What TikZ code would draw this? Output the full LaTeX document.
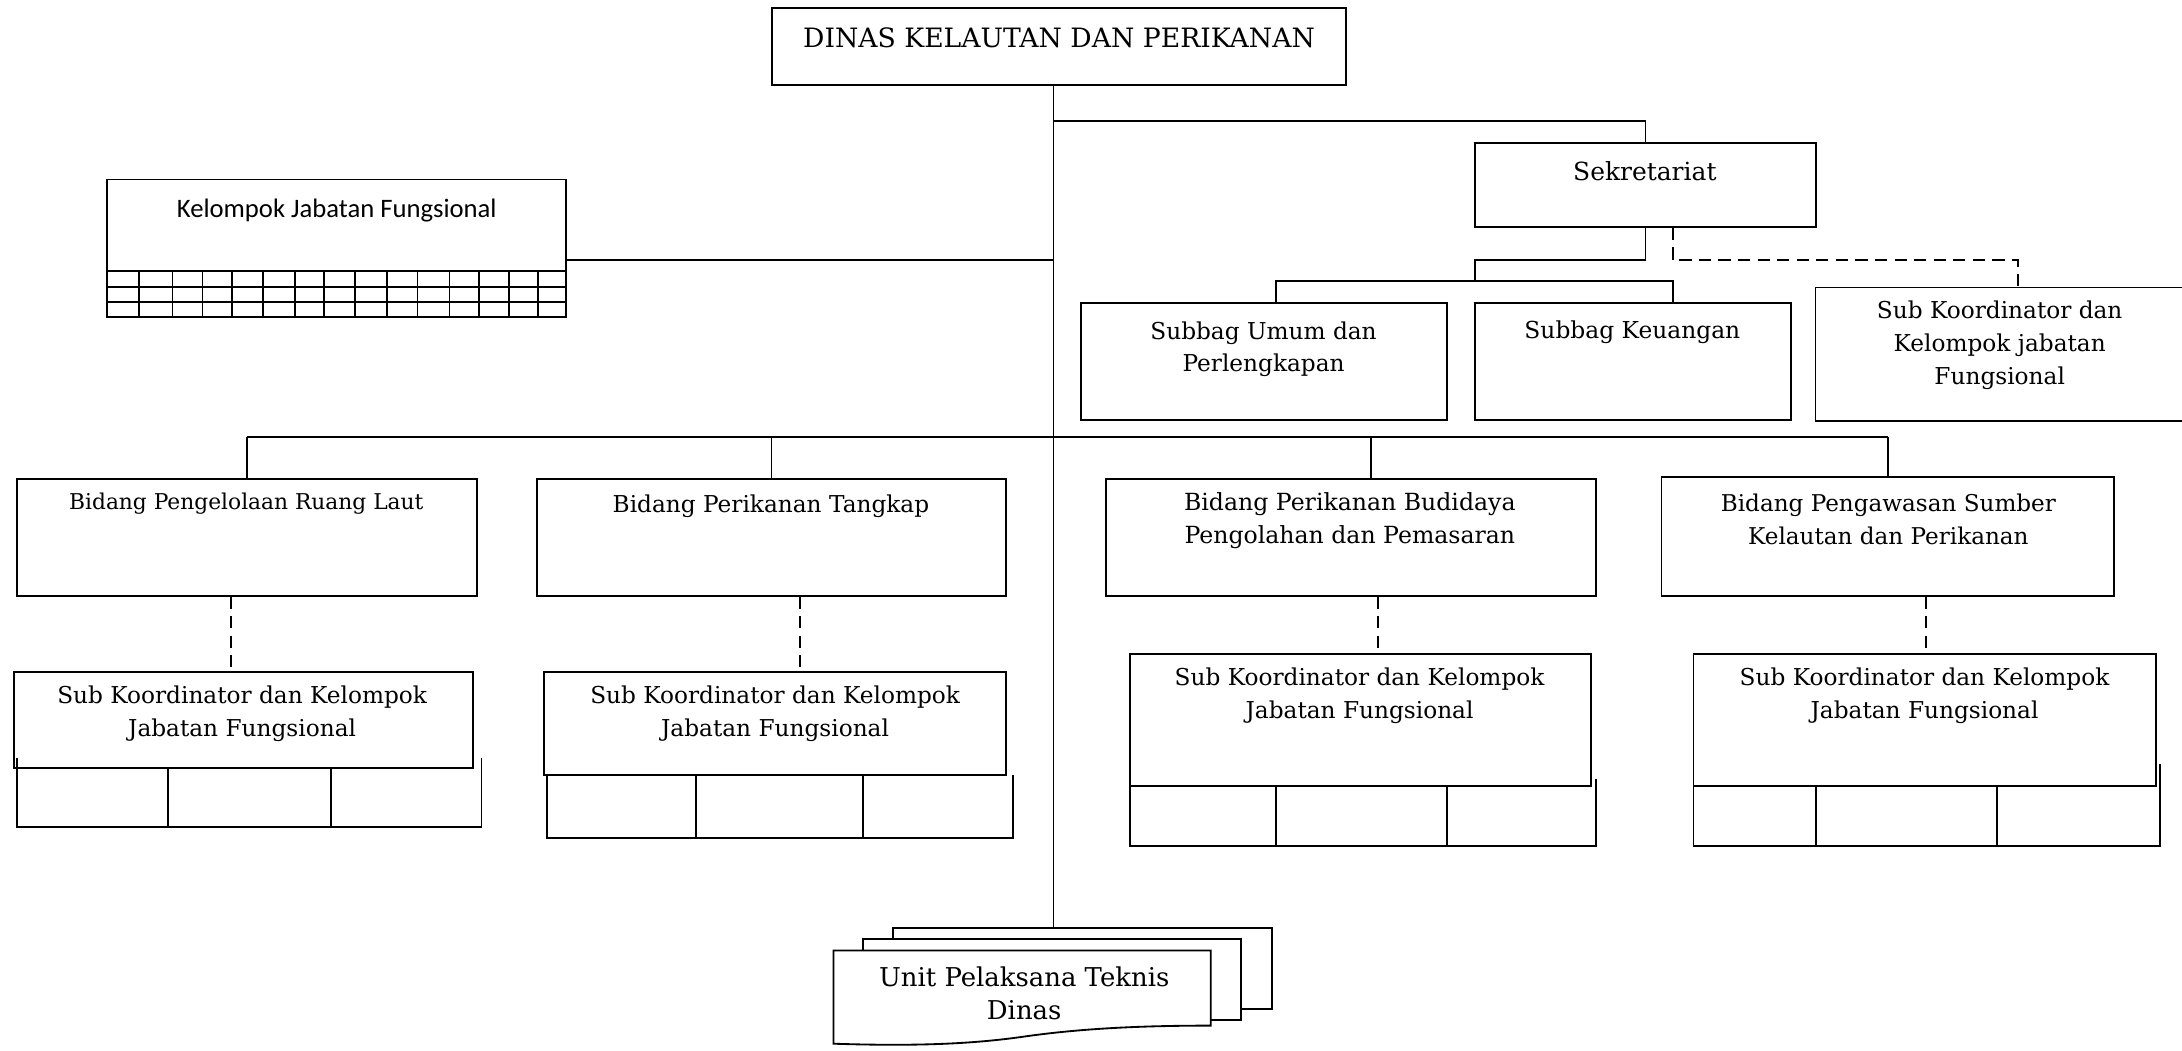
\documentclass[tikz,border=0pt]{standalone}
\usepackage{fontspec}
\setmainfont{DejaVu Serif}
\newfontfamily\calfont{Carlito}
\usetikzlibrary{fit}
\begin{document}
\begin{tikzpicture}[x=0.02cm,y=-0.02cm,
  box/.style={draw, line width=0.75pt, inner sep=0pt, fill=white},
  hbox/.style={inner sep=0pt},
  txt/.style={font=\fontsize{9.5}{13.4}\selectfont, align=center, inner sep=0pt},
  fs/.style={font=\fontsize{#1}{13.4}\selectfont},
  conn/.style={line width=0.7pt},
  dconn/.style={line width=0.7pt, dash pattern=on 5pt off 3pt},
  gridl/.style={line width=0.75pt}]
\useasboundingbox (0,0) rectangle (1568,755);

% ---- top
\node[box, fit={(555,6) (967,61)}] (top) {};
\node[txt, fs=10.9] (top-t) at (761,27) {DINAS KELAUTAN DAN PERIKANAN};

% ---- Kelompok Jabatan Fungsional
\node[box, fit={(77,129) (407,195)}] (kjf) {};
\node[txt, font=\calfont\fontsize{10.9}{12}\selectfont] (kjf-t) at (242,151) {Kelompok Jabatan Fungsional};
\draw[gridl] (77,195) rectangle (407,228);
\draw[gridl] (77,206.5) -- (407,206.5) (77,217.3) -- (407,217.3);
\foreach \gx in {100,124,145.5,166.7,189,211.7,233,255,277.8,300,323,344,366,386.7}
  \draw[gridl] (\gx,195) -- (\gx,228);

% ---- Sekretariat
\node[box, fit={(1060,103) (1305,163)}] (sek) {};
\node[txt, fs=10.2] (sek-t) at (1182,123) {Sekretariat};
\node[box, fit={(777,218) (1040,302)}] (sub1) {};
\node[txt, fs=9.5] (sub1-t) at (908,251) {Subbag Umum dan\\Perlengkapan};
\node[box, fit={(1060,218) (1287,302)}] (sub2) {};
\node[txt, fs=9.55] (sub2-t) at (1173,239) {Subbag Keuangan};
\node[hbox, fit={(1305,207) (1568,302)}] (sk0) {};
\draw[line width=0.75pt] (sk0.north east) -- (sk0.north west) -- (sk0.south west) -- (sk0.south east);
\node[txt, fs=9.5] (sk0-t) at (1437,248) {Sub Koordinator dan\\Kelompok jabatan\\Fungsional};

% ---- Bidang
\node[box, fit={(12,344) (343,428)}] (b1) {};
\node[txt, fs=8.9] (b1-t) at (177,362) {Bidang Pengelolaan Ruang Laut};
\node[box, fit={(386,344) (723,428)}] (b2) {};
\node[txt, fs=9.5] (b2-t) at (554,364) {Bidang Perikanan Tangkap};
\node[box, fit={(795,344) (1147,428)}] (b3) {};
\node[txt, fs=9.65] (b3-t) at (970,374) {Bidang Perikanan Budidaya\\Pengolahan dan Pemasaran};
\node[box, fit={(1194,343) (1519,428)}] (b4) {};
\node[txt, fs=9.45] (b4-t) at (1357,373) {Bidang Pengawasan Sumber\\Kelautan dan Perikanan};

% ---- Sub koordinator boxes with tables
\node[box, fit={(10,483) (340,552)}] (s1) {};
\node[txt] (s1-t) at (174,513) {Sub Koordinator dan Kelompok\\Jabatan Fungsional};
\draw[gridl] (12,545) -- (12,594) -- (346,594) -- (346,545);
\draw[gridl] (121,552) -- (121,594) (238,552) -- (238,594);

\node[box, fit={(391,483) (723,557)}] (s2) {};
\node[txt] (s2-t) at (557,513) {Sub Koordinator dan Kelompok\\Jabatan Fungsional};
\draw[gridl] (393,557) -- (393,602) -- (728,602) -- (728,557);
\draw[gridl] (500,557) -- (500,602) (620,557) -- (620,602);

\node[box, fit={(812,470) (1143,565)}] (s3) {};
\node[txt] (s3-t) at (977,500) {Sub Koordinator dan Kelompok\\Jabatan Fungsional};
\draw[gridl] (812,565) -- (812,608) -- (1147,608) -- (1147,560);
\draw[gridl] (917,565) -- (917,608) (1040,565) -- (1040,608);

\node[box, fit={(1217,470) (1549,565)}] (s4) {};
\node[txt] (s4-t) at (1383,500) {Sub Koordinator dan Kelompok\\Jabatan Fungsional};
\draw[gridl] (1217,565) -- (1217,608) -- (1552,608) -- (1552,549);
\draw[gridl] (1305,565) -- (1305,608) (1435,565) -- (1435,608);

% ---- UPT stack
\node[box, fit={(642,667) (914,725)}] (upt3) {};
\node[box, fit={(620,675) (892,733)}] (upt2) {};
\draw[line width=0.75pt, fill=white] (599,683) -- (870,683) -- (870,737)
  .. controls (810,737) and (770,740) .. (735,745)
  .. controls (700,750) and (660,752) .. (599,750) -- cycle;
\node[txt, fs=10.6] (upt-t) at (736,714) {Unit Pelaksana Teknis\\Dinas};

% ---- connectors
\coordinate (trunk) at (757,87);
\coordinate (kj) at (757,187);
\coordinate (bar) at (757,314);
\draw[conn] (top.south -| trunk) -- (upt3.north -| trunk);
\draw[conn] (trunk) -- (trunk -| sek.north) -- (sek.north);
\draw[conn] (kj -| kjf.east) -- (kj);

\coordinate (j1) at (1060,187);
\coordinate (j2) at (1060,202);
\coordinate (d1) at (917,202);
\coordinate (d2) at (1202,202);
\coordinate (d3) at (1450,187);
\draw[conn] (sek.south) |- (j1) -- (j2);
\draw[conn] (d1 |- sub1.north) -- (d1) -- (d2) -- (d2 |- sub2.north);
\draw[dconn] (d2 |- sek.south) |- (d3) -- (d3 |- sk0.north);

\coordinate (d4) at (985,314);
\draw[conn] (bar -| b1.north) -- (bar -| b4.north);
\draw[conn] (bar -| b1.north) -- (b1.north);
\draw[conn] (bar -| b2.north) -- (b2.north);
\draw[conn] (d4) -- (d4 |- b3.north);
\draw[conn] (bar -| b4.north) -- (b4.north);

\coordinate (e1) at (166,428);
\coordinate (e2) at (575,428);
\coordinate (e3) at (990,428);
\coordinate (e4) at (1384,428);
\draw[dconn] (e1 |- b1.south) -- (e1 |- s1.north);
\draw[dconn] (e2 |- b2.south) -- (e2 |- s2.north);
\draw[dconn] (e3 |- b3.south) -- (e3 |- s3.north);
\draw[dconn] (e4 |- b4.south) -- (e4 |- s4.north);
\end{tikzpicture}
\end{document}
